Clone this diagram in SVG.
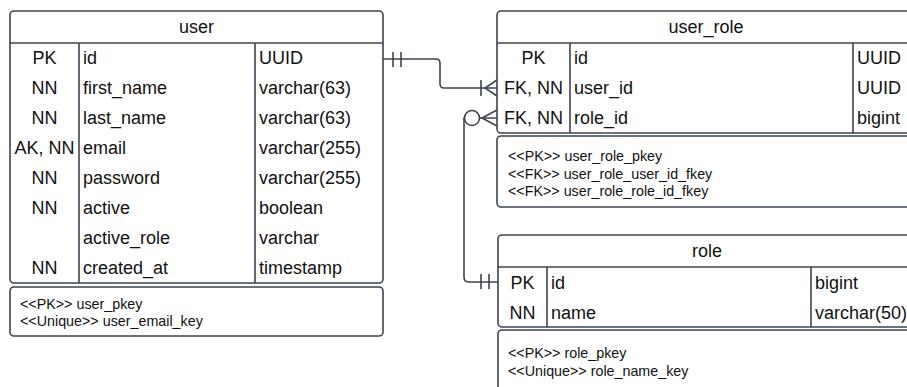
<svg xmlns="http://www.w3.org/2000/svg" width="907" height="387" viewBox="0 0 907 387">
<style>
.box{fill:#fff;stroke:#3d4450;stroke-width:1.6}
.ln{fill:none;stroke:#3d4450;stroke-width:1.6}
.t{font-family:"Liberation Sans",Arial,sans-serif;font-size:18px;fill:#111}
.c{text-anchor:middle}
.n{font-family:"Liberation Sans",Arial,sans-serif;font-size:14.3px;fill:#111}
</style>
<rect width="907" height="387" fill="#fff"/>
<g id="user">
<rect class="box" x="10" y="11" width="373" height="272" rx="4"/>
<line class="ln" x1="10" y1="43" x2="383" y2="43"/>
<line class="ln" x1="79" y1="43" x2="79" y2="283"/>
<line class="ln" x1="255" y1="43" x2="255" y2="283"/>
<text class="t c" x="196.5" y="32.5">user</text>
<text class="t c" x="44.5" y="63.5">PK</text><text class="t" x="83" y="63.5">id</text><text class="t" x="259" y="63.5">UUID</text>
<text class="t c" x="44.5" y="93.5">NN</text><text class="t" x="83" y="93.5">first_name</text><text class="t" x="259" y="93.5">varchar(63)</text>
<text class="t c" x="44.5" y="123.5">NN</text><text class="t" x="83" y="123.5">last_name</text><text class="t" x="259" y="123.5">varchar(63)</text>
<text class="t c" x="44.5" y="153.5">AK, NN</text><text class="t" x="83" y="153.5">email</text><text class="t" x="259" y="153.5">varchar(255)</text>
<text class="t c" x="44.5" y="183.5">NN</text><text class="t" x="83" y="183.5">password</text><text class="t" x="259" y="183.5">varchar(255)</text>
<text class="t c" x="44.5" y="213.5">NN</text><text class="t" x="83" y="213.5">active</text><text class="t" x="259" y="213.5">boolean</text>
<text class="t" x="83" y="243.5">active_role</text><text class="t" x="259" y="243.5">varchar</text>
<text class="t c" x="44.5" y="273.5">NN</text><text class="t" x="83" y="273.5">created_at</text><text class="t" x="259" y="273.5">timestamp</text>
</g>
<g id="user-notes">
<rect class="box" x="10" y="287" width="373" height="49" rx="4"/>
<text class="n" x="20" y="309">&lt;&lt;PK&gt;&gt; user_pkey</text>
<text class="n" x="20" y="326">&lt;&lt;Unique&gt;&gt; user_email_key</text>
</g>
<g id="user_role">
<rect class="box" x="497" y="11" width="418" height="122" rx="4"/>
<line class="ln" x1="497" y1="43" x2="915" y2="43"/>
<line class="ln" x1="570" y1="43" x2="570" y2="133"/>
<line class="ln" x1="853" y1="43" x2="853" y2="133"/>
<text class="t c" x="706" y="32.5">user_role</text>
<text class="t c" x="533.5" y="63.5">PK</text><text class="t" x="574" y="63.5">id</text><text class="t" x="857" y="63.5">UUID</text>
<text class="t c" x="533.5" y="93.5">FK, NN</text><text class="t" x="574" y="93.5">user_id</text><text class="t" x="857" y="93.5">UUID</text>
<text class="t c" x="533.5" y="123.5">FK, NN</text><text class="t" x="574" y="123.5">role_id</text><text class="t" x="857" y="123.5">bigint</text>
</g>
<g id="user_role-notes">
<rect class="box" x="497" y="136" width="418" height="71" rx="4"/>
<text class="n" x="508" y="161">&lt;&lt;PK&gt;&gt; user_role_pkey</text>
<text class="n" x="508" y="178.5">&lt;&lt;FK&gt;&gt; user_role_user_id_fkey</text>
<text class="n" x="508" y="196">&lt;&lt;FK&gt;&gt; user_role_role_id_fkey</text>
</g>
<g id="role">
<rect class="box" x="498" y="235" width="418" height="92" rx="4"/>
<line class="ln" x1="498" y1="267" x2="916" y2="267"/>
<line class="ln" x1="547" y1="267" x2="547" y2="327"/>
<line class="ln" x1="811" y1="267" x2="811" y2="327"/>
<text class="t c" x="707" y="256.5">role</text>
<text class="t c" x="522.5" y="288.5">PK</text><text class="t" x="551" y="288.5">id</text><text class="t" x="815" y="288.5">bigint</text>
<text class="t c" x="522.5" y="318.5">NN</text><text class="t" x="551" y="318.5">name</text><text class="t" x="815" y="318.5">varchar(50)</text>
</g>
<g id="role-notes">
<rect class="box" x="498" y="330" width="418" height="70" rx="4"/>
<text class="n" x="508" y="358">&lt;&lt;PK&gt;&gt; role_pkey</text>
<text class="n" x="508" y="375.5">&lt;&lt;Unique&gt;&gt; role_name_key</text>
</g>
<g id="connectors">
<path class="ln" d="M383,59 H436 Q440,59 440,63 V84 Q440,88 444,88 H497"/>
<line class="ln" x1="393" y1="52" x2="393" y2="67"/>
<line class="ln" x1="401" y1="52" x2="401" y2="67"/>
<line class="ln" x1="481" y1="80" x2="481" y2="96"/>
<path class="ln" d="M497,80 L485,88 L497,96"/>
<path class="ln" d="M498,282 H469 Q464,282 464,277 V118 H497"/>
<circle class="box" cx="472" cy="118" r="7.5"/>
<path class="ln" d="M497,110 L482,118 L497,126"/>
<line class="ln" x1="481" y1="274" x2="481" y2="289"/>
<line class="ln" x1="489" y1="274" x2="489" y2="289"/>
</g>
</svg>
